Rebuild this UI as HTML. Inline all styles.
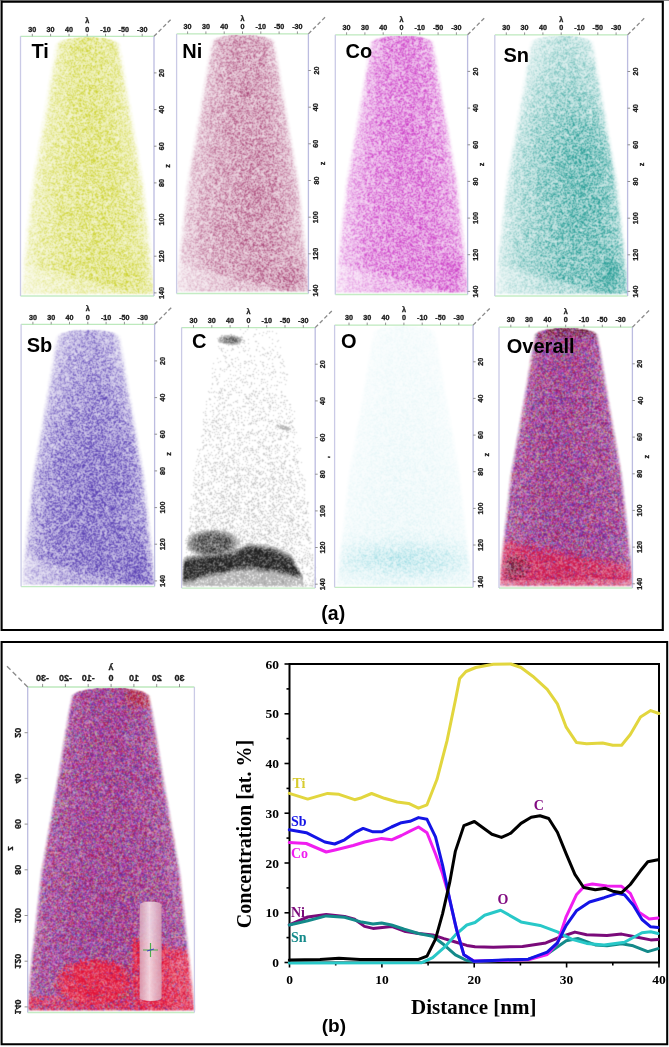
<!DOCTYPE html>
<html><head><meta charset="utf-8">
<style>
html,body{margin:0;padding:0;background:#fff;}
body{width:669px;height:1047px;overflow:hidden;position:relative;}
#fb,#cv,#ov{position:absolute;left:0;top:0;width:669px;height:1047px;}
.tk{font-family:"Liberation Sans",sans-serif;font-weight:bold;fill:#1a1a1a;stroke:#1a1a1a;stroke-width:0.3px;}
.el{font-family:"Liberation Sans",sans-serif;font-weight:bold;font-size:20px;fill:#000;}
.ab{font-family:"Liberation Sans",sans-serif;font-weight:bold;fill:#000;}
.ax{font-family:"Liberation Serif",serif;font-weight:bold;font-size:13.5px;fill:#000;}
.axt{font-family:"Liberation Serif",serif;font-weight:bold;fill:#000;}
.lg{font-family:"Liberation Serif",serif;font-weight:bold;font-size:14px;}
</style></head><body>
<svg id="fb" width="669" height="1047" viewBox="0 0 669 1047"><defs><linearGradient id="fg0" gradientUnits="userSpaceOnUse" x1="0" y1="36.8" x2="0" y2="293.5"><stop offset="0.009" stop-color="#eaecaa"/><stop offset="0.032" stop-color="#e8eaa2"/><stop offset="0.055" stop-color="#e7ea9f"/><stop offset="0.079" stop-color="#e8eba4"/><stop offset="0.102" stop-color="#e7ea9f"/><stop offset="0.125" stop-color="#e8eaa2"/><stop offset="0.149" stop-color="#e8eba3"/><stop offset="0.172" stop-color="#e8eba2"/><stop offset="0.196" stop-color="#e7ea9d"/><stop offset="0.219" stop-color="#e7ea9e"/><stop offset="0.242" stop-color="#e8eaa0"/><stop offset="0.266" stop-color="#e7eaa0"/><stop offset="0.289" stop-color="#e7e99d"/><stop offset="0.312" stop-color="#e7eaa0"/><stop offset="0.336" stop-color="#e8eba2"/><stop offset="0.359" stop-color="#e7ea9f"/><stop offset="0.383" stop-color="#e7ea9e"/><stop offset="0.406" stop-color="#e7eaa0"/><stop offset="0.429" stop-color="#e7e99d"/><stop offset="0.453" stop-color="#e7ea9f"/><stop offset="0.476" stop-color="#e6e99b"/><stop offset="0.499" stop-color="#e6e99b"/><stop offset="0.523" stop-color="#e6e99a"/><stop offset="0.546" stop-color="#e7ea9f"/><stop offset="0.570" stop-color="#e8eaa1"/><stop offset="0.593" stop-color="#e7ea9e"/><stop offset="0.616" stop-color="#e7e99d"/><stop offset="0.640" stop-color="#e8eba3"/><stop offset="0.663" stop-color="#e7e99d"/><stop offset="0.686" stop-color="#e6e99c"/><stop offset="0.710" stop-color="#e7e99d"/><stop offset="0.733" stop-color="#e7e99d"/><stop offset="0.757" stop-color="#e7eaa0"/><stop offset="0.780" stop-color="#e7ea9f"/><stop offset="0.803" stop-color="#e7eaa0"/><stop offset="0.827" stop-color="#e7ea9f"/><stop offset="0.850" stop-color="#e7ea9e"/><stop offset="0.873" stop-color="#e6e99b"/><stop offset="0.897" stop-color="#e6e899"/><stop offset="0.920" stop-color="#e8eba4"/><stop offset="0.944" stop-color="#eaecaa"/><stop offset="0.967" stop-color="#ebeeb1"/><stop offset="0.990" stop-color="#eff1be"/></linearGradient><linearGradient id="fg1" gradientUnits="userSpaceOnUse" x1="0" y1="34.4" x2="0" y2="291.0"><stop offset="0.010" stop-color="#dfbbcd"/><stop offset="0.034" stop-color="#d8acc2"/><stop offset="0.057" stop-color="#daafc5"/><stop offset="0.080" stop-color="#d9aec4"/><stop offset="0.104" stop-color="#dab0c5"/><stop offset="0.127" stop-color="#d9afc4"/><stop offset="0.150" stop-color="#dab1c6"/><stop offset="0.174" stop-color="#d9adc3"/><stop offset="0.197" stop-color="#d9adc3"/><stop offset="0.221" stop-color="#d9afc4"/><stop offset="0.244" stop-color="#d9aec3"/><stop offset="0.267" stop-color="#dbb1c6"/><stop offset="0.291" stop-color="#d8acc2"/><stop offset="0.314" stop-color="#d8acc2"/><stop offset="0.337" stop-color="#d9aec3"/><stop offset="0.361" stop-color="#d9aec4"/><stop offset="0.384" stop-color="#d9aec3"/><stop offset="0.408" stop-color="#daafc4"/><stop offset="0.431" stop-color="#d8acc2"/><stop offset="0.454" stop-color="#d8abc2"/><stop offset="0.478" stop-color="#d9aec3"/><stop offset="0.501" stop-color="#d8acc2"/><stop offset="0.525" stop-color="#d9adc3"/><stop offset="0.548" stop-color="#d9afc4"/><stop offset="0.571" stop-color="#d9afc4"/><stop offset="0.595" stop-color="#d7aac1"/><stop offset="0.618" stop-color="#d8acc2"/><stop offset="0.641" stop-color="#d7aac1"/><stop offset="0.665" stop-color="#d8adc3"/><stop offset="0.688" stop-color="#d7abc1"/><stop offset="0.712" stop-color="#d8acc2"/><stop offset="0.735" stop-color="#d9aec3"/><stop offset="0.758" stop-color="#d8acc2"/><stop offset="0.782" stop-color="#d9adc3"/><stop offset="0.805" stop-color="#d8acc2"/><stop offset="0.829" stop-color="#d8abc1"/><stop offset="0.852" stop-color="#dab0c5"/><stop offset="0.875" stop-color="#d9aec4"/><stop offset="0.899" stop-color="#d9aec3"/><stop offset="0.922" stop-color="#dab0c5"/><stop offset="0.945" stop-color="#dbb2c7"/><stop offset="0.969" stop-color="#dfbcce"/><stop offset="0.992" stop-color="#e6c9d8"/></linearGradient><linearGradient id="fg2" gradientUnits="userSpaceOnUse" x1="0" y1="35.3" x2="0" y2="292.0"><stop offset="0.011" stop-color="#e59ee3"/><stop offset="0.034" stop-color="#e6a0e3"/><stop offset="0.057" stop-color="#e29bdf"/><stop offset="0.081" stop-color="#e099de"/><stop offset="0.104" stop-color="#e59fe3"/><stop offset="0.127" stop-color="#e59ce2"/><stop offset="0.151" stop-color="#e49ce2"/><stop offset="0.174" stop-color="#e49ce2"/><stop offset="0.198" stop-color="#e59de2"/><stop offset="0.221" stop-color="#e49be2"/><stop offset="0.244" stop-color="#e59fe3"/><stop offset="0.268" stop-color="#e5a0e3"/><stop offset="0.291" stop-color="#e59de2"/><stop offset="0.314" stop-color="#e59ee3"/><stop offset="0.338" stop-color="#e59ce2"/><stop offset="0.361" stop-color="#e59ce2"/><stop offset="0.384" stop-color="#e49ae1"/><stop offset="0.408" stop-color="#e49ce2"/><stop offset="0.431" stop-color="#e59fe3"/><stop offset="0.455" stop-color="#e49ce2"/><stop offset="0.478" stop-color="#e59ce2"/><stop offset="0.501" stop-color="#e6a0e3"/><stop offset="0.525" stop-color="#e49ce2"/><stop offset="0.548" stop-color="#e49ae1"/><stop offset="0.571" stop-color="#e49be2"/><stop offset="0.595" stop-color="#e69fe3"/><stop offset="0.618" stop-color="#e59ce2"/><stop offset="0.642" stop-color="#e59ee3"/><stop offset="0.665" stop-color="#e59de2"/><stop offset="0.688" stop-color="#e59de2"/><stop offset="0.712" stop-color="#e59ee2"/><stop offset="0.735" stop-color="#e59ee2"/><stop offset="0.758" stop-color="#e59de2"/><stop offset="0.782" stop-color="#e49ae1"/><stop offset="0.805" stop-color="#e59ee2"/><stop offset="0.829" stop-color="#e49be2"/><stop offset="0.852" stop-color="#e49ce2"/><stop offset="0.875" stop-color="#e49ae1"/><stop offset="0.899" stop-color="#e397e0"/><stop offset="0.922" stop-color="#e6a0e3"/><stop offset="0.945" stop-color="#e8a9e6"/><stop offset="0.969" stop-color="#eaafe7"/><stop offset="0.992" stop-color="#edbceb"/></linearGradient><linearGradient id="fg3" gradientUnits="userSpaceOnUse" x1="0" y1="35.4" x2="0" y2="293.5"><stop offset="0.010" stop-color="#d0e9e8"/><stop offset="0.033" stop-color="#cbe7e6"/><stop offset="0.057" stop-color="#c8e6e4"/><stop offset="0.080" stop-color="#c5e4e3"/><stop offset="0.103" stop-color="#c1e2e1"/><stop offset="0.126" stop-color="#bee1df"/><stop offset="0.150" stop-color="#bde1df"/><stop offset="0.173" stop-color="#bce0de"/><stop offset="0.196" stop-color="#b6dedb"/><stop offset="0.219" stop-color="#b3dcda"/><stop offset="0.243" stop-color="#afdad8"/><stop offset="0.266" stop-color="#b1dbd9"/><stop offset="0.289" stop-color="#addad7"/><stop offset="0.312" stop-color="#a7d7d4"/><stop offset="0.336" stop-color="#a3d5d2"/><stop offset="0.359" stop-color="#a0d3d0"/><stop offset="0.382" stop-color="#9ed2cf"/><stop offset="0.405" stop-color="#9cd2cf"/><stop offset="0.429" stop-color="#99d0cd"/><stop offset="0.452" stop-color="#93ceca"/><stop offset="0.475" stop-color="#94cecb"/><stop offset="0.498" stop-color="#94ceca"/><stop offset="0.522" stop-color="#98d0cd"/><stop offset="0.545" stop-color="#93ceca"/><stop offset="0.568" stop-color="#97cfcc"/><stop offset="0.591" stop-color="#95cfcb"/><stop offset="0.614" stop-color="#95cfcb"/><stop offset="0.638" stop-color="#96cfcc"/><stop offset="0.661" stop-color="#99d1cd"/><stop offset="0.684" stop-color="#98d0cd"/><stop offset="0.707" stop-color="#98d0cd"/><stop offset="0.731" stop-color="#9ad1ce"/><stop offset="0.754" stop-color="#97cfcc"/><stop offset="0.777" stop-color="#98d0cd"/><stop offset="0.800" stop-color="#9cd2ce"/><stop offset="0.824" stop-color="#99d0cd"/><stop offset="0.847" stop-color="#9ad1ce"/><stop offset="0.870" stop-color="#98d0cd"/><stop offset="0.893" stop-color="#95cfcb"/><stop offset="0.917" stop-color="#98d0cd"/><stop offset="0.940" stop-color="#9ed3cf"/><stop offset="0.963" stop-color="#a9d7d5"/><stop offset="0.986" stop-color="#b4dcda"/><stop offset="1.000" stop-color="#cde8e6"/></linearGradient><linearGradient id="fg4" gradientUnits="userSpaceOnUse" x1="0" y1="329.3" x2="0" y2="584.1"><stop offset="0.011" stop-color="#c9c0e6"/><stop offset="0.034" stop-color="#c2b8e3"/><stop offset="0.058" stop-color="#c0b7e2"/><stop offset="0.081" stop-color="#bdb3e1"/><stop offset="0.105" stop-color="#bdb3e1"/><stop offset="0.128" stop-color="#b9aedf"/><stop offset="0.152" stop-color="#b9aedf"/><stop offset="0.175" stop-color="#b7acde"/><stop offset="0.199" stop-color="#b5aadd"/><stop offset="0.223" stop-color="#b3a8dc"/><stop offset="0.246" stop-color="#b1a5db"/><stop offset="0.270" stop-color="#aea2da"/><stop offset="0.293" stop-color="#b1a6db"/><stop offset="0.317" stop-color="#ada1d9"/><stop offset="0.340" stop-color="#aa9dd8"/><stop offset="0.364" stop-color="#a89bd7"/><stop offset="0.387" stop-color="#aa9dd8"/><stop offset="0.411" stop-color="#a99cd8"/><stop offset="0.434" stop-color="#a496d5"/><stop offset="0.458" stop-color="#a496d5"/><stop offset="0.482" stop-color="#a193d4"/><stop offset="0.505" stop-color="#a092d4"/><stop offset="0.529" stop-color="#a092d4"/><stop offset="0.552" stop-color="#9f90d3"/><stop offset="0.576" stop-color="#a092d4"/><stop offset="0.599" stop-color="#9e8fd3"/><stop offset="0.623" stop-color="#9f90d3"/><stop offset="0.646" stop-color="#a092d4"/><stop offset="0.670" stop-color="#9e8fd3"/><stop offset="0.693" stop-color="#9e90d3"/><stop offset="0.717" stop-color="#9e90d3"/><stop offset="0.741" stop-color="#a092d4"/><stop offset="0.764" stop-color="#9e90d3"/><stop offset="0.788" stop-color="#9d8ed2"/><stop offset="0.811" stop-color="#9d8ed2"/><stop offset="0.835" stop-color="#9c8ed2"/><stop offset="0.858" stop-color="#9d8fd2"/><stop offset="0.882" stop-color="#9f91d3"/><stop offset="0.905" stop-color="#9d8ed2"/><stop offset="0.929" stop-color="#a395d5"/><stop offset="0.953" stop-color="#aa9dd8"/><stop offset="0.976" stop-color="#b0a4db"/><stop offset="0.996" stop-color="#bfb5e2"/></linearGradient><linearGradient id="fg5" gradientUnits="userSpaceOnUse" x1="0" y1="328.1" x2="0" y2="585.6"><stop offset="0.011" stop-color="#fcfcfc"/><stop offset="0.035" stop-color="#e4e4e4"/><stop offset="0.058" stop-color="#e4e4e4"/><stop offset="0.081" stop-color="#f9f9f9"/><stop offset="0.104" stop-color="#fafafa"/><stop offset="0.128" stop-color="#f9f9f9"/><stop offset="0.151" stop-color="#f9f9f9"/><stop offset="0.174" stop-color="#f9f9f9"/><stop offset="0.198" stop-color="#f9f9f9"/><stop offset="0.221" stop-color="#f9f9f9"/><stop offset="0.244" stop-color="#f7f7f7"/><stop offset="0.268" stop-color="#f6f6f6"/><stop offset="0.291" stop-color="#f6f6f6"/><stop offset="0.314" stop-color="#f6f6f6"/><stop offset="0.337" stop-color="#f7f7f7"/><stop offset="0.361" stop-color="#f4f4f4"/><stop offset="0.384" stop-color="#f1f1f1"/><stop offset="0.407" stop-color="#f3f3f3"/><stop offset="0.431" stop-color="#f6f6f6"/><stop offset="0.454" stop-color="#f5f5f5"/><stop offset="0.477" stop-color="#f5f5f5"/><stop offset="0.501" stop-color="#f5f5f5"/><stop offset="0.524" stop-color="#f3f3f3"/><stop offset="0.547" stop-color="#f2f2f2"/><stop offset="0.570" stop-color="#f2f2f2"/><stop offset="0.594" stop-color="#f0f0f0"/><stop offset="0.617" stop-color="#f2f2f2"/><stop offset="0.640" stop-color="#f2f2f2"/><stop offset="0.664" stop-color="#f0f0f0"/><stop offset="0.687" stop-color="#f0f0f0"/><stop offset="0.710" stop-color="#efefef"/><stop offset="0.734" stop-color="#efefef"/><stop offset="0.757" stop-color="#efefef"/><stop offset="0.780" stop-color="#eaeaea"/><stop offset="0.803" stop-color="#cbcbcb"/><stop offset="0.827" stop-color="#bcbcbc"/><stop offset="0.850" stop-color="#a6a6a6"/><stop offset="0.873" stop-color="#878787"/><stop offset="0.897" stop-color="#636363"/><stop offset="0.920" stop-color="#5a5a5a"/><stop offset="0.943" stop-color="#7b7b7b"/><stop offset="0.967" stop-color="#acacac"/><stop offset="0.990" stop-color="#c4c4c4"/></linearGradient><linearGradient id="fg6" gradientUnits="userSpaceOnUse" x1="0" y1="325.6" x2="0" y2="584.8"><stop offset="0.009" stop-color="#f7fcfc"/><stop offset="0.032" stop-color="#f6fbfc"/><stop offset="0.056" stop-color="#f5fbfc"/><stop offset="0.079" stop-color="#f5fbfc"/><stop offset="0.102" stop-color="#f6fbfc"/><stop offset="0.125" stop-color="#f5fbfc"/><stop offset="0.148" stop-color="#f5fbfc"/><stop offset="0.171" stop-color="#f5fbfc"/><stop offset="0.194" stop-color="#f4fbfc"/><stop offset="0.218" stop-color="#f5fbfc"/><stop offset="0.241" stop-color="#f4fbfc"/><stop offset="0.264" stop-color="#f4fbfc"/><stop offset="0.287" stop-color="#f4fbfb"/><stop offset="0.310" stop-color="#f4fbfc"/><stop offset="0.333" stop-color="#f3fbfb"/><stop offset="0.356" stop-color="#f3fafb"/><stop offset="0.380" stop-color="#f3fafb"/><stop offset="0.403" stop-color="#f3fafb"/><stop offset="0.426" stop-color="#f3fafb"/><stop offset="0.449" stop-color="#f3fafb"/><stop offset="0.472" stop-color="#f2fafb"/><stop offset="0.495" stop-color="#f2fafb"/><stop offset="0.519" stop-color="#f2fafb"/><stop offset="0.542" stop-color="#f1fafb"/><stop offset="0.565" stop-color="#f2fafb"/><stop offset="0.588" stop-color="#f2fafb"/><stop offset="0.611" stop-color="#f2fafb"/><stop offset="0.634" stop-color="#f1fafb"/><stop offset="0.657" stop-color="#f1fafb"/><stop offset="0.681" stop-color="#f1fafb"/><stop offset="0.704" stop-color="#f1fafb"/><stop offset="0.727" stop-color="#f1fafb"/><stop offset="0.750" stop-color="#f0f9fa"/><stop offset="0.773" stop-color="#f0f9fa"/><stop offset="0.796" stop-color="#eff9fa"/><stop offset="0.819" stop-color="#ecf8f9"/><stop offset="0.843" stop-color="#e4f5f7"/><stop offset="0.866" stop-color="#dcf2f5"/><stop offset="0.889" stop-color="#d5f0f3"/><stop offset="0.912" stop-color="#d4eff3"/><stop offset="0.935" stop-color="#daf2f4"/><stop offset="0.958" stop-color="#e3f5f7"/><stop offset="0.981" stop-color="#eaf7f9"/><stop offset="0.997" stop-color="#edf8fa"/></linearGradient><linearGradient id="fg7" gradientUnits="userSpaceOnUse" x1="0" y1="327.7" x2="0" y2="585.5"><stop offset="0.009" stop-color="#96557c"/><stop offset="0.032" stop-color="#974f80"/><stop offset="0.055" stop-color="#834579"/><stop offset="0.079" stop-color="#753d6c"/><stop offset="0.102" stop-color="#93518c"/><stop offset="0.125" stop-color="#a75a9c"/><stop offset="0.149" stop-color="#a65599"/><stop offset="0.172" stop-color="#aa599b"/><stop offset="0.195" stop-color="#a85a9a"/><stop offset="0.218" stop-color="#a8599b"/><stop offset="0.242" stop-color="#a8599d"/><stop offset="0.265" stop-color="#a75d9e"/><stop offset="0.288" stop-color="#a2559a"/><stop offset="0.311" stop-color="#a95a9f"/><stop offset="0.335" stop-color="#a6599a"/><stop offset="0.358" stop-color="#aa5a9d"/><stop offset="0.381" stop-color="#a75b9b"/><stop offset="0.405" stop-color="#a7599d"/><stop offset="0.428" stop-color="#a6589a"/><stop offset="0.451" stop-color="#a6579b"/><stop offset="0.474" stop-color="#a6579a"/><stop offset="0.498" stop-color="#a7589d"/><stop offset="0.521" stop-color="#a85b9b"/><stop offset="0.544" stop-color="#a6559a"/><stop offset="0.567" stop-color="#a7589c"/><stop offset="0.591" stop-color="#a7599d"/><stop offset="0.614" stop-color="#a6579a"/><stop offset="0.637" stop-color="#a6599a"/><stop offset="0.661" stop-color="#a45398"/><stop offset="0.684" stop-color="#a4579c"/><stop offset="0.707" stop-color="#a6579a"/><stop offset="0.730" stop-color="#a5589d"/><stop offset="0.754" stop-color="#a8599c"/><stop offset="0.777" stop-color="#a3559a"/><stop offset="0.800" stop-color="#a5559a"/><stop offset="0.824" stop-color="#a6579b"/><stop offset="0.847" stop-color="#ae5493"/><stop offset="0.870" stop-color="#b74c8a"/><stop offset="0.893" stop-color="#bc467d"/><stop offset="0.917" stop-color="#c44675"/><stop offset="0.940" stop-color="#c74472"/><stop offset="0.963" stop-color="#c93f70"/><stop offset="0.986" stop-color="#d6668c"/><stop offset="1.000" stop-color="#e298b4"/></linearGradient><linearGradient id="fg8" gradientUnits="userSpaceOnUse" x1="0" y1="687.5" x2="0" y2="1010.0"><stop offset="0.008" stop-color="#af5f98"/><stop offset="0.026" stop-color="#ab508c"/><stop offset="0.045" stop-color="#ac5390"/><stop offset="0.064" stop-color="#a75797"/><stop offset="0.082" stop-color="#a55498"/><stop offset="0.101" stop-color="#a7579c"/><stop offset="0.119" stop-color="#a8559a"/><stop offset="0.138" stop-color="#a4589e"/><stop offset="0.157" stop-color="#a7599c"/><stop offset="0.175" stop-color="#a85c9b"/><stop offset="0.194" stop-color="#a7579a"/><stop offset="0.212" stop-color="#a7579a"/><stop offset="0.231" stop-color="#a7559c"/><stop offset="0.250" stop-color="#a5589d"/><stop offset="0.268" stop-color="#a5589a"/><stop offset="0.287" stop-color="#a4539a"/><stop offset="0.305" stop-color="#a7579a"/><stop offset="0.324" stop-color="#a7579b"/><stop offset="0.343" stop-color="#a8599d"/><stop offset="0.361" stop-color="#a65a9c"/><stop offset="0.380" stop-color="#a8589b"/><stop offset="0.398" stop-color="#a7579b"/><stop offset="0.417" stop-color="#a5579c"/><stop offset="0.436" stop-color="#a75799"/><stop offset="0.454" stop-color="#a7589a"/><stop offset="0.473" stop-color="#a7579b"/><stop offset="0.491" stop-color="#a6599c"/><stop offset="0.510" stop-color="#a6569a"/><stop offset="0.529" stop-color="#a85699"/><stop offset="0.547" stop-color="#a8579b"/><stop offset="0.566" stop-color="#a85a9d"/><stop offset="0.584" stop-color="#a5559a"/><stop offset="0.603" stop-color="#a7589a"/><stop offset="0.622" stop-color="#a7579a"/><stop offset="0.640" stop-color="#a55799"/><stop offset="0.659" stop-color="#a9599b"/><stop offset="0.678" stop-color="#af65a3"/><stop offset="0.696" stop-color="#af64a1"/><stop offset="0.715" stop-color="#ae66a0"/><stop offset="0.733" stop-color="#af64a2"/><stop offset="0.752" stop-color="#ae65a0"/><stop offset="0.771" stop-color="#ae65a0"/><stop offset="0.789" stop-color="#b2639f"/><stop offset="0.808" stop-color="#af5f97"/><stop offset="0.826" stop-color="#ba6096"/><stop offset="0.845" stop-color="#c15c90"/><stop offset="0.864" stop-color="#cf5881"/><stop offset="0.882" stop-color="#d2567e"/><stop offset="0.901" stop-color="#d4537a"/><stop offset="0.919" stop-color="#d6567b"/><stop offset="0.938" stop-color="#d3547a"/><stop offset="0.957" stop-color="#d4557a"/><stop offset="0.975" stop-color="#d54770"/><stop offset="0.994" stop-color="#d35981"/></linearGradient></defs><path d="M96.6,36.8 L105.9,37.8 L113.6,39.8 L117.8,42.8 L121.4,60.8 L128.7,104.8 L142.6,184.8 L153.0,288.8 L153.0,293.5 L21.5,293.5 L21.5,288.8 L31.9,184.8 L45.9,104.8 L53.1,60.8 L56.7,42.8 L60.9,39.8 L68.6,37.8 L77.9,36.8Z" fill="url(#fg0)"/><path d="M251.8,34.4 L261.1,35.4 L268.9,37.4 L273.0,40.4 L276.7,58.4 L283.9,102.4 L297.9,182.4 L307.4,286.4 L307.4,291.0 L177.6,291.0 L177.6,286.4 L187.1,182.4 L201.1,102.4 L208.3,58.4 L212.0,40.4 L216.1,37.4 L223.9,35.4 L233.2,34.4Z" fill="url(#fg1)"/><path d="M410.8,35.3 L420.1,36.3 L427.8,38.3 L432.0,41.3 L435.6,59.3 L442.9,103.3 L456.8,183.3 L466.6,287.3 L466.6,292.0 L336.3,292.0 L336.3,287.3 L346.1,183.3 L360.1,103.3 L367.3,59.3 L370.9,41.3 L375.1,38.3 L382.8,36.3 L392.1,35.3Z" fill="url(#fg2)"/><path d="M570.5,35.4 L579.8,36.4 L587.6,38.4 L591.7,41.4 L595.4,59.4 L602.6,103.4 L616.6,183.4 L626.6,287.4 L626.6,293.5 L495.8,293.5 L495.8,287.4 L505.8,183.4 L519.8,103.4 L527.0,59.4 L530.7,41.4 L534.8,38.4 L542.6,36.4 L551.9,35.4Z" fill="url(#fg3)"/><path d="M97.2,329.3 L106.5,330.3 L114.2,332.3 L118.4,335.3 L122.0,353.3 L129.2,397.3 L143.2,477.3 L153.6,581.3 L153.6,584.1 L22.1,584.1 L22.1,581.3 L32.5,477.3 L46.4,397.3 L53.7,353.3 L57.3,335.3 L61.5,332.3 L69.2,330.3 L78.5,329.3Z" fill="url(#fg4)"/><path d="M257.7,328.1 L267.0,329.1 L274.8,331.1 L278.9,334.1 L282.6,352.1 L289.8,396.1 L303.8,476.1 L314.2,580.1 L314.2,585.6 L182.6,585.6 L182.6,580.1 L193.0,476.1 L207.0,396.1 L214.2,352.1 L217.9,334.1 L222.0,331.1 L229.8,329.1 L239.1,328.1Z" fill="url(#fg5)"/><path d="M413.2,325.6 L422.5,326.6 L430.2,328.6 L434.4,331.6 L438.0,349.6 L445.2,393.6 L459.2,473.6 L470.6,577.6 L471.7,584.8 L336.0,584.8 L337.1,577.6 L348.5,473.6 L362.5,393.6 L369.7,349.6 L373.3,331.6 L377.5,328.6 L385.2,326.6 L394.5,325.6Z" fill="url(#fg6)"/><path d="M575.0,327.7 L584.3,328.7 L592.1,330.7 L596.2,333.7 L599.9,351.7 L607.1,395.7 L621.1,475.7 L631.4,579.7 L631.4,585.5 L500.0,585.5 L500.0,579.7 L510.3,475.7 L524.3,395.7 L531.5,351.7 L535.2,333.7 L539.3,330.7 L547.1,328.7 L556.4,327.7Z" fill="url(#fg7)"/><path d="M121.7,687.5 L133.3,688.7 L143.0,691.2 L148.1,695.0 L152.6,717.4 L161.7,772.3 L179.1,872.1 L193.3,1001.7 L193.4,1010.0 L28.7,1010.0 L28.7,1001.7 L41.0,872.1 L58.4,772.3 L67.5,717.4 L72.0,695.0 L77.1,691.2 L86.8,688.7 L98.4,687.5Z" fill="url(#fg8)"/></svg>
<canvas id="cv" width="669" height="1047"></canvas>
<svg id="ov" width="669" height="1047" viewBox="0 0 669 1047">
<rect x="0" y="0" width="669" height="1" fill="#8a8a8a"/>
<path d="M1.6,0.6 V631 M0.6,1.8 H663.7 M662.8,1 V631 M0.6,629.95 H663.7" fill="none" stroke="#000" stroke-width="2.1"/>
<path d="M1.6,641 V1045.3 M0.6,642 H668.2 M667.2,641 V1045.3 M0.6,1044.3 H668.2" fill="none" stroke="#000" stroke-width="2.05"/>
<line x1="20.5" y1="36.3" x2="154.0" y2="36.3" stroke="#bde9bd" stroke-width="1.3"/>
<line x1="20.5" y1="296.0" x2="154.0" y2="296.0" stroke="#c4ecc4" stroke-width="1.3"/>
<line x1="20.5" y1="36.3" x2="20.5" y2="296.0" stroke="#cacae6" stroke-width="1.3"/>
<line x1="154.0" y1="36.3" x2="154.0" y2="296.0" stroke="#bcbce0" stroke-width="1.3"/>
<line x1="154.0" y1="36.3" x2="172.0" y2="18.299999999999997" stroke="#8a8a8a" stroke-width="1.3" stroke-dasharray="4.0,2.5"/>
<line x1="32.3" y1="33.8" x2="32.3" y2="36.3" stroke="#777" stroke-width="0.8"/>
<text x="32.3" y="31.5" font-size="7.2" text-anchor="middle" class="tk">30</text>
<line x1="50.6" y1="33.8" x2="50.6" y2="36.3" stroke="#777" stroke-width="0.8"/>
<text x="50.6" y="31.5" font-size="7.2" text-anchor="middle" class="tk">30</text>
<line x1="69.0" y1="33.8" x2="69.0" y2="36.3" stroke="#777" stroke-width="0.8"/>
<text x="69.0" y="31.5" font-size="7.2" text-anchor="middle" class="tk">40</text>
<line x1="87.2" y1="33.8" x2="87.2" y2="36.3" stroke="#777" stroke-width="0.8"/>
<text x="87.2" y="31.5" font-size="7.2" text-anchor="middle" class="tk">0</text>
<line x1="105.5" y1="33.8" x2="105.5" y2="36.3" stroke="#777" stroke-width="0.8"/>
<text x="105.5" y="31.5" font-size="7.2" text-anchor="middle" class="tk">-10</text>
<line x1="123.8" y1="33.8" x2="123.8" y2="36.3" stroke="#777" stroke-width="0.8"/>
<text x="123.8" y="31.5" font-size="7.2" text-anchor="middle" class="tk">-50</text>
<line x1="142.2" y1="33.8" x2="142.2" y2="36.3" stroke="#777" stroke-width="0.8"/>
<text x="142.2" y="31.5" font-size="7.2" text-anchor="middle" class="tk">-30</text>
<text x="87.2" y="23.0" font-size="7.2" text-anchor="middle" class="tk">&#955;</text>
<line x1="154.0" y1="72.9" x2="156.5" y2="72.9" stroke="#777" stroke-width="0.8"/>
<text x="161.6" y="72.9" font-size="7.2" text-anchor="middle" dominant-baseline="central" class="tk" transform="rotate(-90 161.6 72.9)">20</text>
<line x1="154.0" y1="109.6" x2="156.5" y2="109.6" stroke="#777" stroke-width="0.8"/>
<text x="161.6" y="109.6" font-size="7.2" text-anchor="middle" dominant-baseline="central" class="tk" transform="rotate(-90 161.6 109.6)">40</text>
<line x1="154.0" y1="146.2" x2="156.5" y2="146.2" stroke="#777" stroke-width="0.8"/>
<text x="161.6" y="146.2" font-size="7.2" text-anchor="middle" dominant-baseline="central" class="tk" transform="rotate(-90 161.6 146.2)">60</text>
<line x1="154.0" y1="182.9" x2="156.5" y2="182.9" stroke="#777" stroke-width="0.8"/>
<text x="161.6" y="182.9" font-size="7.2" text-anchor="middle" dominant-baseline="central" class="tk" transform="rotate(-90 161.6 182.9)">80</text>
<line x1="154.0" y1="219.6" x2="156.5" y2="219.6" stroke="#777" stroke-width="0.8"/>
<text x="161.6" y="219.6" font-size="7.2" text-anchor="middle" dominant-baseline="central" class="tk" transform="rotate(-90 161.6 219.6)">100</text>
<line x1="154.0" y1="256.2" x2="156.5" y2="256.2" stroke="#777" stroke-width="0.8"/>
<text x="161.6" y="256.2" font-size="7.2" text-anchor="middle" dominant-baseline="central" class="tk" transform="rotate(-90 161.6 256.2)">120</text>
<line x1="154.0" y1="292.9" x2="156.5" y2="292.9" stroke="#777" stroke-width="0.8"/>
<text x="161.6" y="292.9" font-size="7.2" text-anchor="middle" dominant-baseline="central" class="tk" transform="rotate(-90 161.6 292.9)">140</text>
<text x="167.8" y="165.9" font-size="7.2" text-anchor="middle" dominant-baseline="central" class="tk" transform="rotate(-90 167.8 165.9)">z</text>
<text x="31.5" y="58.4" class="el">Ti</text>
<line x1="176.6" y1="33.9" x2="308.4" y2="33.9" stroke="#bde9bd" stroke-width="1.3"/>
<line x1="176.6" y1="293.5" x2="308.4" y2="293.5" stroke="#c4ecc4" stroke-width="1.3"/>
<line x1="176.6" y1="33.9" x2="176.6" y2="293.5" stroke="#cacae6" stroke-width="1.3"/>
<line x1="308.4" y1="33.9" x2="308.4" y2="293.5" stroke="#bcbce0" stroke-width="1.3"/>
<line x1="308.4" y1="33.9" x2="326.4" y2="15.899999999999999" stroke="#8a8a8a" stroke-width="1.3" stroke-dasharray="4.0,2.5"/>
<line x1="187.6" y1="31.4" x2="187.6" y2="33.9" stroke="#777" stroke-width="0.8"/>
<text x="187.6" y="29.1" font-size="7.2" text-anchor="middle" class="tk">30</text>
<line x1="205.9" y1="31.4" x2="205.9" y2="33.9" stroke="#777" stroke-width="0.8"/>
<text x="205.9" y="29.1" font-size="7.2" text-anchor="middle" class="tk">30</text>
<line x1="224.2" y1="31.4" x2="224.2" y2="33.9" stroke="#777" stroke-width="0.8"/>
<text x="224.2" y="29.1" font-size="7.2" text-anchor="middle" class="tk">40</text>
<line x1="242.5" y1="31.4" x2="242.5" y2="33.9" stroke="#777" stroke-width="0.8"/>
<text x="242.5" y="29.1" font-size="7.2" text-anchor="middle" class="tk">0</text>
<line x1="260.8" y1="31.4" x2="260.8" y2="33.9" stroke="#777" stroke-width="0.8"/>
<text x="260.8" y="29.1" font-size="7.2" text-anchor="middle" class="tk">-10</text>
<line x1="279.1" y1="31.4" x2="279.1" y2="33.9" stroke="#777" stroke-width="0.8"/>
<text x="279.1" y="29.1" font-size="7.2" text-anchor="middle" class="tk">-50</text>
<line x1="297.4" y1="31.4" x2="297.4" y2="33.9" stroke="#777" stroke-width="0.8"/>
<text x="297.4" y="29.1" font-size="7.2" text-anchor="middle" class="tk">-30</text>
<text x="242.5" y="20.6" font-size="7.2" text-anchor="middle" class="tk">&#955;</text>
<line x1="308.4" y1="70.5" x2="310.9" y2="70.5" stroke="#777" stroke-width="0.8"/>
<text x="316.0" y="70.5" font-size="7.2" text-anchor="middle" dominant-baseline="central" class="tk" transform="rotate(-90 316.0 70.5)">20</text>
<line x1="308.4" y1="107.2" x2="310.9" y2="107.2" stroke="#777" stroke-width="0.8"/>
<text x="316.0" y="107.2" font-size="7.2" text-anchor="middle" dominant-baseline="central" class="tk" transform="rotate(-90 316.0 107.2)">40</text>
<line x1="308.4" y1="143.8" x2="310.9" y2="143.8" stroke="#777" stroke-width="0.8"/>
<text x="316.0" y="143.8" font-size="7.2" text-anchor="middle" dominant-baseline="central" class="tk" transform="rotate(-90 316.0 143.8)">60</text>
<line x1="308.4" y1="180.5" x2="310.9" y2="180.5" stroke="#777" stroke-width="0.8"/>
<text x="316.0" y="180.5" font-size="7.2" text-anchor="middle" dominant-baseline="central" class="tk" transform="rotate(-90 316.0 180.5)">80</text>
<line x1="308.4" y1="217.2" x2="310.9" y2="217.2" stroke="#777" stroke-width="0.8"/>
<text x="316.0" y="217.2" font-size="7.2" text-anchor="middle" dominant-baseline="central" class="tk" transform="rotate(-90 316.0 217.2)">100</text>
<line x1="308.4" y1="253.8" x2="310.9" y2="253.8" stroke="#777" stroke-width="0.8"/>
<text x="316.0" y="253.8" font-size="7.2" text-anchor="middle" dominant-baseline="central" class="tk" transform="rotate(-90 316.0 253.8)">120</text>
<line x1="308.4" y1="290.4" x2="310.9" y2="290.4" stroke="#777" stroke-width="0.8"/>
<text x="316.0" y="290.4" font-size="7.2" text-anchor="middle" dominant-baseline="central" class="tk" transform="rotate(-90 316.0 290.4)">140</text>
<text x="322.2" y="163.5" font-size="7.2" text-anchor="middle" dominant-baseline="central" class="tk" transform="rotate(-90 322.2 163.5)">z</text>
<text x="182.3" y="58.4" class="el">Ni</text>
<line x1="335.3" y1="34.8" x2="467.6" y2="34.8" stroke="#bde9bd" stroke-width="1.3"/>
<line x1="335.3" y1="294.5" x2="467.6" y2="294.5" stroke="#c4ecc4" stroke-width="1.3"/>
<line x1="335.3" y1="34.8" x2="335.3" y2="294.5" stroke="#cacae6" stroke-width="1.3"/>
<line x1="467.6" y1="34.8" x2="467.6" y2="294.5" stroke="#bcbce0" stroke-width="1.3"/>
<line x1="467.6" y1="34.8" x2="485.6" y2="16.799999999999997" stroke="#8a8a8a" stroke-width="1.3" stroke-dasharray="4.0,2.5"/>
<line x1="346.6" y1="32.3" x2="346.6" y2="34.8" stroke="#777" stroke-width="0.8"/>
<text x="346.6" y="30.0" font-size="7.2" text-anchor="middle" class="tk">30</text>
<line x1="364.9" y1="32.3" x2="364.9" y2="34.8" stroke="#777" stroke-width="0.8"/>
<text x="364.9" y="30.0" font-size="7.2" text-anchor="middle" class="tk">30</text>
<line x1="383.2" y1="32.3" x2="383.2" y2="34.8" stroke="#777" stroke-width="0.8"/>
<text x="383.2" y="30.0" font-size="7.2" text-anchor="middle" class="tk">40</text>
<line x1="401.5" y1="32.3" x2="401.5" y2="34.8" stroke="#777" stroke-width="0.8"/>
<text x="401.5" y="30.0" font-size="7.2" text-anchor="middle" class="tk">0</text>
<line x1="419.8" y1="32.3" x2="419.8" y2="34.8" stroke="#777" stroke-width="0.8"/>
<text x="419.8" y="30.0" font-size="7.2" text-anchor="middle" class="tk">-10</text>
<line x1="438.1" y1="32.3" x2="438.1" y2="34.8" stroke="#777" stroke-width="0.8"/>
<text x="438.1" y="30.0" font-size="7.2" text-anchor="middle" class="tk">-50</text>
<line x1="456.4" y1="32.3" x2="456.4" y2="34.8" stroke="#777" stroke-width="0.8"/>
<text x="456.4" y="30.0" font-size="7.2" text-anchor="middle" class="tk">-30</text>
<text x="401.5" y="21.5" font-size="7.2" text-anchor="middle" class="tk">&#955;</text>
<line x1="467.6" y1="71.4" x2="470.1" y2="71.4" stroke="#777" stroke-width="0.8"/>
<text x="475.2" y="71.4" font-size="7.2" text-anchor="middle" dominant-baseline="central" class="tk" transform="rotate(-90 475.2 71.4)">20</text>
<line x1="467.6" y1="108.1" x2="470.1" y2="108.1" stroke="#777" stroke-width="0.8"/>
<text x="475.2" y="108.1" font-size="7.2" text-anchor="middle" dominant-baseline="central" class="tk" transform="rotate(-90 475.2 108.1)">40</text>
<line x1="467.6" y1="144.8" x2="470.1" y2="144.8" stroke="#777" stroke-width="0.8"/>
<text x="475.2" y="144.8" font-size="7.2" text-anchor="middle" dominant-baseline="central" class="tk" transform="rotate(-90 475.2 144.8)">60</text>
<line x1="467.6" y1="181.4" x2="470.1" y2="181.4" stroke="#777" stroke-width="0.8"/>
<text x="475.2" y="181.4" font-size="7.2" text-anchor="middle" dominant-baseline="central" class="tk" transform="rotate(-90 475.2 181.4)">80</text>
<line x1="467.6" y1="218.1" x2="470.1" y2="218.1" stroke="#777" stroke-width="0.8"/>
<text x="475.2" y="218.1" font-size="7.2" text-anchor="middle" dominant-baseline="central" class="tk" transform="rotate(-90 475.2 218.1)">100</text>
<line x1="467.6" y1="254.7" x2="470.1" y2="254.7" stroke="#777" stroke-width="0.8"/>
<text x="475.2" y="254.7" font-size="7.2" text-anchor="middle" dominant-baseline="central" class="tk" transform="rotate(-90 475.2 254.7)">120</text>
<line x1="467.6" y1="291.4" x2="470.1" y2="291.4" stroke="#777" stroke-width="0.8"/>
<text x="475.2" y="291.4" font-size="7.2" text-anchor="middle" dominant-baseline="central" class="tk" transform="rotate(-90 475.2 291.4)">140</text>
<text x="481.4" y="164.4" font-size="7.2" text-anchor="middle" dominant-baseline="central" class="tk" transform="rotate(-90 481.4 164.4)">z</text>
<text x="345.6" y="58.1" class="el">Co</text>
<line x1="494.8" y1="34.9" x2="627.6" y2="34.9" stroke="#bde9bd" stroke-width="1.3"/>
<line x1="494.8" y1="296.0" x2="627.6" y2="296.0" stroke="#c4ecc4" stroke-width="1.3"/>
<line x1="494.8" y1="34.9" x2="494.8" y2="296.0" stroke="#cacae6" stroke-width="1.3"/>
<line x1="627.6" y1="34.9" x2="627.6" y2="296.0" stroke="#bcbce0" stroke-width="1.3"/>
<line x1="627.6" y1="34.9" x2="645.6" y2="16.9" stroke="#8a8a8a" stroke-width="1.3" stroke-dasharray="4.0,2.5"/>
<line x1="506.3" y1="32.4" x2="506.3" y2="34.9" stroke="#777" stroke-width="0.8"/>
<text x="506.3" y="30.1" font-size="7.2" text-anchor="middle" class="tk">30</text>
<line x1="524.6" y1="32.4" x2="524.6" y2="34.9" stroke="#777" stroke-width="0.8"/>
<text x="524.6" y="30.1" font-size="7.2" text-anchor="middle" class="tk">30</text>
<line x1="542.9" y1="32.4" x2="542.9" y2="34.9" stroke="#777" stroke-width="0.8"/>
<text x="542.9" y="30.1" font-size="7.2" text-anchor="middle" class="tk">40</text>
<line x1="561.2" y1="32.4" x2="561.2" y2="34.9" stroke="#777" stroke-width="0.8"/>
<text x="561.2" y="30.1" font-size="7.2" text-anchor="middle" class="tk">0</text>
<line x1="579.5" y1="32.4" x2="579.5" y2="34.9" stroke="#777" stroke-width="0.8"/>
<text x="579.5" y="30.1" font-size="7.2" text-anchor="middle" class="tk">-10</text>
<line x1="597.8" y1="32.4" x2="597.8" y2="34.9" stroke="#777" stroke-width="0.8"/>
<text x="597.8" y="30.1" font-size="7.2" text-anchor="middle" class="tk">-50</text>
<line x1="616.1" y1="32.4" x2="616.1" y2="34.9" stroke="#777" stroke-width="0.8"/>
<text x="616.1" y="30.1" font-size="7.2" text-anchor="middle" class="tk">-30</text>
<text x="561.2" y="21.6" font-size="7.2" text-anchor="middle" class="tk">&#955;</text>
<line x1="627.6" y1="71.5" x2="630.1" y2="71.5" stroke="#777" stroke-width="0.8"/>
<text x="635.2" y="71.5" font-size="7.2" text-anchor="middle" dominant-baseline="central" class="tk" transform="rotate(-90 635.2 71.5)">20</text>
<line x1="627.6" y1="108.2" x2="630.1" y2="108.2" stroke="#777" stroke-width="0.8"/>
<text x="635.2" y="108.2" font-size="7.2" text-anchor="middle" dominant-baseline="central" class="tk" transform="rotate(-90 635.2 108.2)">40</text>
<line x1="627.6" y1="144.8" x2="630.1" y2="144.8" stroke="#777" stroke-width="0.8"/>
<text x="635.2" y="144.8" font-size="7.2" text-anchor="middle" dominant-baseline="central" class="tk" transform="rotate(-90 635.2 144.8)">60</text>
<line x1="627.6" y1="181.5" x2="630.1" y2="181.5" stroke="#777" stroke-width="0.8"/>
<text x="635.2" y="181.5" font-size="7.2" text-anchor="middle" dominant-baseline="central" class="tk" transform="rotate(-90 635.2 181.5)">80</text>
<line x1="627.6" y1="218.2" x2="630.1" y2="218.2" stroke="#777" stroke-width="0.8"/>
<text x="635.2" y="218.2" font-size="7.2" text-anchor="middle" dominant-baseline="central" class="tk" transform="rotate(-90 635.2 218.2)">100</text>
<line x1="627.6" y1="254.8" x2="630.1" y2="254.8" stroke="#777" stroke-width="0.8"/>
<text x="635.2" y="254.8" font-size="7.2" text-anchor="middle" dominant-baseline="central" class="tk" transform="rotate(-90 635.2 254.8)">120</text>
<line x1="627.6" y1="291.4" x2="630.1" y2="291.4" stroke="#777" stroke-width="0.8"/>
<text x="635.2" y="291.4" font-size="7.2" text-anchor="middle" dominant-baseline="central" class="tk" transform="rotate(-90 635.2 291.4)">140</text>
<text x="641.4" y="164.5" font-size="7.2" text-anchor="middle" dominant-baseline="central" class="tk" transform="rotate(-90 641.4 164.5)">z</text>
<text x="503.4" y="61.6" class="el">Sn</text>
<line x1="21.1" y1="324.3" x2="154.6" y2="324.3" stroke="#bde9bd" stroke-width="1.3"/>
<line x1="21.1" y1="586.6" x2="154.6" y2="586.6" stroke="#c4ecc4" stroke-width="1.3"/>
<line x1="21.1" y1="324.3" x2="21.1" y2="586.6" stroke="#cacae6" stroke-width="1.3"/>
<line x1="154.6" y1="324.3" x2="154.6" y2="586.6" stroke="#bcbce0" stroke-width="1.3"/>
<line x1="154.6" y1="324.3" x2="172.6" y2="306.3" stroke="#8a8a8a" stroke-width="1.3" stroke-dasharray="4.0,2.5"/>
<line x1="32.9" y1="321.8" x2="32.9" y2="324.3" stroke="#777" stroke-width="0.8"/>
<text x="32.9" y="319.5" font-size="7.2" text-anchor="middle" class="tk">30</text>
<line x1="51.2" y1="321.8" x2="51.2" y2="324.3" stroke="#777" stroke-width="0.8"/>
<text x="51.2" y="319.5" font-size="7.2" text-anchor="middle" class="tk">30</text>
<line x1="69.5" y1="321.8" x2="69.5" y2="324.3" stroke="#777" stroke-width="0.8"/>
<text x="69.5" y="319.5" font-size="7.2" text-anchor="middle" class="tk">40</text>
<line x1="87.8" y1="321.8" x2="87.8" y2="324.3" stroke="#777" stroke-width="0.8"/>
<text x="87.8" y="319.5" font-size="7.2" text-anchor="middle" class="tk">0</text>
<line x1="106.1" y1="321.8" x2="106.1" y2="324.3" stroke="#777" stroke-width="0.8"/>
<text x="106.1" y="319.5" font-size="7.2" text-anchor="middle" class="tk">-10</text>
<line x1="124.4" y1="321.8" x2="124.4" y2="324.3" stroke="#777" stroke-width="0.8"/>
<text x="124.4" y="319.5" font-size="7.2" text-anchor="middle" class="tk">-50</text>
<line x1="142.8" y1="321.8" x2="142.8" y2="324.3" stroke="#777" stroke-width="0.8"/>
<text x="142.8" y="319.5" font-size="7.2" text-anchor="middle" class="tk">-30</text>
<text x="87.8" y="311.0" font-size="7.2" text-anchor="middle" class="tk">&#955;</text>
<line x1="154.6" y1="360.9" x2="157.1" y2="360.9" stroke="#777" stroke-width="0.8"/>
<text x="162.2" y="360.9" font-size="7.2" text-anchor="middle" dominant-baseline="central" class="tk" transform="rotate(-90 162.2 360.9)">20</text>
<line x1="154.6" y1="397.6" x2="157.1" y2="397.6" stroke="#777" stroke-width="0.8"/>
<text x="162.2" y="397.6" font-size="7.2" text-anchor="middle" dominant-baseline="central" class="tk" transform="rotate(-90 162.2 397.6)">40</text>
<line x1="154.6" y1="434.2" x2="157.1" y2="434.2" stroke="#777" stroke-width="0.8"/>
<text x="162.2" y="434.2" font-size="7.2" text-anchor="middle" dominant-baseline="central" class="tk" transform="rotate(-90 162.2 434.2)">60</text>
<line x1="154.6" y1="470.9" x2="157.1" y2="470.9" stroke="#777" stroke-width="0.8"/>
<text x="162.2" y="470.9" font-size="7.2" text-anchor="middle" dominant-baseline="central" class="tk" transform="rotate(-90 162.2 470.9)">80</text>
<line x1="154.6" y1="507.6" x2="157.1" y2="507.6" stroke="#777" stroke-width="0.8"/>
<text x="162.2" y="507.6" font-size="7.2" text-anchor="middle" dominant-baseline="central" class="tk" transform="rotate(-90 162.2 507.6)">100</text>
<line x1="154.6" y1="544.2" x2="157.1" y2="544.2" stroke="#777" stroke-width="0.8"/>
<text x="162.2" y="544.2" font-size="7.2" text-anchor="middle" dominant-baseline="central" class="tk" transform="rotate(-90 162.2 544.2)">120</text>
<line x1="154.6" y1="580.9" x2="157.1" y2="580.9" stroke="#777" stroke-width="0.8"/>
<text x="162.2" y="580.9" font-size="7.2" text-anchor="middle" dominant-baseline="central" class="tk" transform="rotate(-90 162.2 580.9)">140</text>
<text x="168.4" y="453.9" font-size="7.2" text-anchor="middle" dominant-baseline="central" class="tk" transform="rotate(-90 168.4 453.9)">z</text>
<text x="26.7" y="351.7" class="el">Sb</text>
<line x1="181.6" y1="327.6" x2="315.2" y2="327.6" stroke="#bde9bd" stroke-width="1.3"/>
<line x1="181.6" y1="588.1" x2="315.2" y2="588.1" stroke="#c4ecc4" stroke-width="1.3"/>
<line x1="181.6" y1="327.6" x2="181.6" y2="588.1" stroke="#cacae6" stroke-width="1.3"/>
<line x1="315.2" y1="327.6" x2="315.2" y2="588.1" stroke="#bcbce0" stroke-width="1.3"/>
<line x1="315.2" y1="327.6" x2="333.2" y2="309.6" stroke="#8a8a8a" stroke-width="1.3" stroke-dasharray="4.0,2.5"/>
<line x1="193.5" y1="325.1" x2="193.5" y2="327.6" stroke="#777" stroke-width="0.8"/>
<text x="193.5" y="322.8" font-size="7.2" text-anchor="middle" class="tk">30</text>
<line x1="211.8" y1="325.1" x2="211.8" y2="327.6" stroke="#777" stroke-width="0.8"/>
<text x="211.8" y="322.8" font-size="7.2" text-anchor="middle" class="tk">30</text>
<line x1="230.1" y1="325.1" x2="230.1" y2="327.6" stroke="#777" stroke-width="0.8"/>
<text x="230.1" y="322.8" font-size="7.2" text-anchor="middle" class="tk">40</text>
<line x1="248.4" y1="325.1" x2="248.4" y2="327.6" stroke="#777" stroke-width="0.8"/>
<text x="248.4" y="322.8" font-size="7.2" text-anchor="middle" class="tk">0</text>
<line x1="266.7" y1="325.1" x2="266.7" y2="327.6" stroke="#777" stroke-width="0.8"/>
<text x="266.7" y="322.8" font-size="7.2" text-anchor="middle" class="tk">-10</text>
<line x1="285.0" y1="325.1" x2="285.0" y2="327.6" stroke="#777" stroke-width="0.8"/>
<text x="285.0" y="322.8" font-size="7.2" text-anchor="middle" class="tk">-50</text>
<line x1="303.3" y1="325.1" x2="303.3" y2="327.6" stroke="#777" stroke-width="0.8"/>
<text x="303.3" y="322.8" font-size="7.2" text-anchor="middle" class="tk">-30</text>
<text x="248.4" y="314.3" font-size="7.2" text-anchor="middle" class="tk">&#955;</text>
<line x1="315.2" y1="364.2" x2="317.7" y2="364.2" stroke="#777" stroke-width="0.8"/>
<text x="322.8" y="364.2" font-size="7.2" text-anchor="middle" dominant-baseline="central" class="tk" transform="rotate(-90 322.8 364.2)">20</text>
<line x1="315.2" y1="400.9" x2="317.7" y2="400.9" stroke="#777" stroke-width="0.8"/>
<text x="322.8" y="400.9" font-size="7.2" text-anchor="middle" dominant-baseline="central" class="tk" transform="rotate(-90 322.8 400.9)">40</text>
<line x1="315.2" y1="437.6" x2="317.7" y2="437.6" stroke="#777" stroke-width="0.8"/>
<text x="322.8" y="437.6" font-size="7.2" text-anchor="middle" dominant-baseline="central" class="tk" transform="rotate(-90 322.8 437.6)">60</text>
<line x1="315.2" y1="474.2" x2="317.7" y2="474.2" stroke="#777" stroke-width="0.8"/>
<text x="322.8" y="474.2" font-size="7.2" text-anchor="middle" dominant-baseline="central" class="tk" transform="rotate(-90 322.8 474.2)">80</text>
<line x1="315.2" y1="510.9" x2="317.7" y2="510.9" stroke="#777" stroke-width="0.8"/>
<text x="322.8" y="510.9" font-size="7.2" text-anchor="middle" dominant-baseline="central" class="tk" transform="rotate(-90 322.8 510.9)">100</text>
<line x1="315.2" y1="547.5" x2="317.7" y2="547.5" stroke="#777" stroke-width="0.8"/>
<text x="322.8" y="547.5" font-size="7.2" text-anchor="middle" dominant-baseline="central" class="tk" transform="rotate(-90 322.8 547.5)">120</text>
<line x1="315.2" y1="584.2" x2="317.7" y2="584.2" stroke="#777" stroke-width="0.8"/>
<text x="322.8" y="584.2" font-size="7.2" text-anchor="middle" dominant-baseline="central" class="tk" transform="rotate(-90 322.8 584.2)">140</text>
<text x="329.0" y="457.2" font-size="3.5" text-anchor="middle" dominant-baseline="central" class="tk" transform="rotate(-90 329.0 457.2)">z</text>
<text x="192.0" y="348.4" class="el">C</text>
<line x1="334.6" y1="325.1" x2="473.1" y2="325.1" stroke="#bde9bd" stroke-width="1.3"/>
<line x1="334.6" y1="587.3" x2="473.1" y2="587.3" stroke="#c4ecc4" stroke-width="1.3"/>
<line x1="334.6" y1="325.1" x2="334.6" y2="587.3" stroke="#cacae6" stroke-width="1.3"/>
<line x1="473.1" y1="325.1" x2="473.1" y2="587.3" stroke="#bcbce0" stroke-width="1.3"/>
<line x1="473.1" y1="325.1" x2="491.1" y2="307.1" stroke="#8a8a8a" stroke-width="1.3" stroke-dasharray="4.0,2.5"/>
<line x1="349.0" y1="322.6" x2="349.0" y2="325.1" stroke="#777" stroke-width="0.8"/>
<text x="349.0" y="320.3" font-size="7.2" text-anchor="middle" class="tk">30</text>
<line x1="367.2" y1="322.6" x2="367.2" y2="325.1" stroke="#777" stroke-width="0.8"/>
<text x="367.2" y="320.3" font-size="7.2" text-anchor="middle" class="tk">30</text>
<line x1="385.6" y1="322.6" x2="385.6" y2="325.1" stroke="#777" stroke-width="0.8"/>
<text x="385.6" y="320.3" font-size="7.2" text-anchor="middle" class="tk">40</text>
<line x1="403.9" y1="322.6" x2="403.9" y2="325.1" stroke="#777" stroke-width="0.8"/>
<text x="403.9" y="320.3" font-size="7.2" text-anchor="middle" class="tk">0</text>
<line x1="422.2" y1="322.6" x2="422.2" y2="325.1" stroke="#777" stroke-width="0.8"/>
<text x="422.2" y="320.3" font-size="7.2" text-anchor="middle" class="tk">-10</text>
<line x1="440.5" y1="322.6" x2="440.5" y2="325.1" stroke="#777" stroke-width="0.8"/>
<text x="440.5" y="320.3" font-size="7.2" text-anchor="middle" class="tk">-50</text>
<line x1="458.8" y1="322.6" x2="458.8" y2="325.1" stroke="#777" stroke-width="0.8"/>
<text x="458.8" y="320.3" font-size="7.2" text-anchor="middle" class="tk">-30</text>
<text x="403.9" y="311.8" font-size="7.2" text-anchor="middle" class="tk">&#955;</text>
<line x1="473.1" y1="361.8" x2="475.6" y2="361.8" stroke="#777" stroke-width="0.8"/>
<text x="480.7" y="361.8" font-size="7.2" text-anchor="middle" dominant-baseline="central" class="tk" transform="rotate(-90 480.7 361.8)">20</text>
<line x1="473.1" y1="398.4" x2="475.6" y2="398.4" stroke="#777" stroke-width="0.8"/>
<text x="480.7" y="398.4" font-size="7.2" text-anchor="middle" dominant-baseline="central" class="tk" transform="rotate(-90 480.7 398.4)">40</text>
<line x1="473.1" y1="435.1" x2="475.6" y2="435.1" stroke="#777" stroke-width="0.8"/>
<text x="480.7" y="435.1" font-size="7.2" text-anchor="middle" dominant-baseline="central" class="tk" transform="rotate(-90 480.7 435.1)">60</text>
<line x1="473.1" y1="471.7" x2="475.6" y2="471.7" stroke="#777" stroke-width="0.8"/>
<text x="480.7" y="471.7" font-size="7.2" text-anchor="middle" dominant-baseline="central" class="tk" transform="rotate(-90 480.7 471.7)">80</text>
<line x1="473.1" y1="508.4" x2="475.6" y2="508.4" stroke="#777" stroke-width="0.8"/>
<text x="480.7" y="508.4" font-size="7.2" text-anchor="middle" dominant-baseline="central" class="tk" transform="rotate(-90 480.7 508.4)">100</text>
<line x1="473.1" y1="545.0" x2="475.6" y2="545.0" stroke="#777" stroke-width="0.8"/>
<text x="480.7" y="545.0" font-size="7.2" text-anchor="middle" dominant-baseline="central" class="tk" transform="rotate(-90 480.7 545.0)">120</text>
<line x1="473.1" y1="581.7" x2="475.6" y2="581.7" stroke="#777" stroke-width="0.8"/>
<text x="480.7" y="581.7" font-size="7.2" text-anchor="middle" dominant-baseline="central" class="tk" transform="rotate(-90 480.7 581.7)">140</text>
<text x="486.9" y="454.7" font-size="7.2" text-anchor="middle" dominant-baseline="central" class="tk" transform="rotate(-90 486.9 454.7)">z</text>
<text x="341.0" y="347.8" class="el">O</text>
<line x1="499.0" y1="327.2" x2="632.4" y2="327.2" stroke="#bde9bd" stroke-width="1.3"/>
<line x1="499.0" y1="588.0" x2="632.4" y2="588.0" stroke="#c4ecc4" stroke-width="1.3"/>
<line x1="499.0" y1="327.2" x2="499.0" y2="588.0" stroke="#cacae6" stroke-width="1.3"/>
<line x1="632.4" y1="327.2" x2="632.4" y2="588.0" stroke="#bcbce0" stroke-width="1.3"/>
<line x1="632.4" y1="327.2" x2="650.4" y2="309.2" stroke="#8a8a8a" stroke-width="1.3" stroke-dasharray="4.0,2.5"/>
<line x1="510.8" y1="324.7" x2="510.8" y2="327.2" stroke="#777" stroke-width="0.8"/>
<text x="510.8" y="322.4" font-size="7.2" text-anchor="middle" class="tk">30</text>
<line x1="529.1" y1="324.7" x2="529.1" y2="327.2" stroke="#777" stroke-width="0.8"/>
<text x="529.1" y="322.4" font-size="7.2" text-anchor="middle" class="tk">30</text>
<line x1="547.4" y1="324.7" x2="547.4" y2="327.2" stroke="#777" stroke-width="0.8"/>
<text x="547.4" y="322.4" font-size="7.2" text-anchor="middle" class="tk">40</text>
<line x1="565.7" y1="324.7" x2="565.7" y2="327.2" stroke="#777" stroke-width="0.8"/>
<text x="565.7" y="322.4" font-size="7.2" text-anchor="middle" class="tk">0</text>
<line x1="584.0" y1="324.7" x2="584.0" y2="327.2" stroke="#777" stroke-width="0.8"/>
<text x="584.0" y="322.4" font-size="7.2" text-anchor="middle" class="tk">-10</text>
<line x1="602.3" y1="324.7" x2="602.3" y2="327.2" stroke="#777" stroke-width="0.8"/>
<text x="602.3" y="322.4" font-size="7.2" text-anchor="middle" class="tk">-50</text>
<line x1="620.6" y1="324.7" x2="620.6" y2="327.2" stroke="#777" stroke-width="0.8"/>
<text x="620.6" y="322.4" font-size="7.2" text-anchor="middle" class="tk">-30</text>
<text x="565.7" y="313.9" font-size="7.2" text-anchor="middle" class="tk">&#955;</text>
<line x1="632.4" y1="363.8" x2="634.9" y2="363.8" stroke="#777" stroke-width="0.8"/>
<text x="640.0" y="363.8" font-size="7.2" text-anchor="middle" dominant-baseline="central" class="tk" transform="rotate(-90 640.0 363.8)">20</text>
<line x1="632.4" y1="400.5" x2="634.9" y2="400.5" stroke="#777" stroke-width="0.8"/>
<text x="640.0" y="400.5" font-size="7.2" text-anchor="middle" dominant-baseline="central" class="tk" transform="rotate(-90 640.0 400.5)">40</text>
<line x1="632.4" y1="437.1" x2="634.9" y2="437.1" stroke="#777" stroke-width="0.8"/>
<text x="640.0" y="437.1" font-size="7.2" text-anchor="middle" dominant-baseline="central" class="tk" transform="rotate(-90 640.0 437.1)">60</text>
<line x1="632.4" y1="473.8" x2="634.9" y2="473.8" stroke="#777" stroke-width="0.8"/>
<text x="640.0" y="473.8" font-size="7.2" text-anchor="middle" dominant-baseline="central" class="tk" transform="rotate(-90 640.0 473.8)">80</text>
<line x1="632.4" y1="510.4" x2="634.9" y2="510.4" stroke="#777" stroke-width="0.8"/>
<text x="640.0" y="510.4" font-size="7.2" text-anchor="middle" dominant-baseline="central" class="tk" transform="rotate(-90 640.0 510.4)">100</text>
<line x1="632.4" y1="547.1" x2="634.9" y2="547.1" stroke="#777" stroke-width="0.8"/>
<text x="640.0" y="547.1" font-size="7.2" text-anchor="middle" dominant-baseline="central" class="tk" transform="rotate(-90 640.0 547.1)">120</text>
<line x1="632.4" y1="583.8" x2="634.9" y2="583.8" stroke="#777" stroke-width="0.8"/>
<text x="640.0" y="583.8" font-size="7.2" text-anchor="middle" dominant-baseline="central" class="tk" transform="rotate(-90 640.0 583.8)">140</text>
<text x="646.2" y="456.8" font-size="7.2" text-anchor="middle" dominant-baseline="central" class="tk" transform="rotate(-90 646.2 456.8)">z</text>
<text x="506.8" y="352.8" class="el">Overall</text>
<g transform="translate(222.1,0) scale(-1,1)"><line x1="27.7" y1="687.0" x2="194.4" y2="687.0" stroke="#bde9bd" stroke-width="1.3"/>
<line x1="27.7" y1="1012.5" x2="194.4" y2="1012.5" stroke="#c4ecc4" stroke-width="1.3"/>
<line x1="27.7" y1="687.0" x2="27.7" y2="1012.5" stroke="#cacae6" stroke-width="1.3"/>
<line x1="194.4" y1="687.0" x2="194.4" y2="1012.5" stroke="#bcbce0" stroke-width="1.3"/>
<line x1="194.4" y1="687.0" x2="216.846" y2="664.554" stroke="#8a8a8a" stroke-width="1.3" stroke-dasharray="5.0,3.1"/>
<line x1="42.6" y1="683.9" x2="42.6" y2="687.0" stroke="#777" stroke-width="0.8"/>
<text x="42.6" y="681.0" font-size="9.0" text-anchor="middle" class="tk">30</text>
<line x1="65.4" y1="683.9" x2="65.4" y2="687.0" stroke="#777" stroke-width="0.8"/>
<text x="65.4" y="681.0" font-size="9.0" text-anchor="middle" class="tk">20</text>
<line x1="88.2" y1="683.9" x2="88.2" y2="687.0" stroke="#777" stroke-width="0.8"/>
<text x="88.2" y="681.0" font-size="9.0" text-anchor="middle" class="tk">10</text>
<line x1="111.0" y1="683.9" x2="111.0" y2="687.0" stroke="#777" stroke-width="0.8"/>
<text x="111.0" y="681.0" font-size="9.0" text-anchor="middle" class="tk">0</text>
<line x1="133.9" y1="683.9" x2="133.9" y2="687.0" stroke="#777" stroke-width="0.8"/>
<text x="133.9" y="681.0" font-size="9.0" text-anchor="middle" class="tk">-10</text>
<line x1="156.7" y1="683.9" x2="156.7" y2="687.0" stroke="#777" stroke-width="0.8"/>
<text x="156.7" y="681.0" font-size="9.0" text-anchor="middle" class="tk">-20</text>
<line x1="179.5" y1="683.9" x2="179.5" y2="687.0" stroke="#777" stroke-width="0.8"/>
<text x="179.5" y="681.0" font-size="9.0" text-anchor="middle" class="tk">-30</text>
<text x="111.0" y="670.4" font-size="9.0" text-anchor="middle" class="tk">&#955;</text>
<line x1="194.4" y1="732.7" x2="197.5" y2="732.7" stroke="#777" stroke-width="0.8"/>
<text x="203.9" y="732.7" font-size="9.0" text-anchor="middle" dominant-baseline="central" class="tk" transform="rotate(-90 203.9 732.7)">20</text>
<line x1="194.4" y1="778.4" x2="197.5" y2="778.4" stroke="#777" stroke-width="0.8"/>
<text x="203.9" y="778.4" font-size="9.0" text-anchor="middle" dominant-baseline="central" class="tk" transform="rotate(-90 203.9 778.4)">40</text>
<line x1="194.4" y1="824.1" x2="197.5" y2="824.1" stroke="#777" stroke-width="0.8"/>
<text x="203.9" y="824.1" font-size="9.0" text-anchor="middle" dominant-baseline="central" class="tk" transform="rotate(-90 203.9 824.1)">60</text>
<line x1="194.4" y1="869.8" x2="197.5" y2="869.8" stroke="#777" stroke-width="0.8"/>
<text x="203.9" y="869.8" font-size="9.0" text-anchor="middle" dominant-baseline="central" class="tk" transform="rotate(-90 203.9 869.8)">80</text>
<line x1="194.4" y1="915.5" x2="197.5" y2="915.5" stroke="#777" stroke-width="0.8"/>
<text x="203.9" y="915.5" font-size="9.0" text-anchor="middle" dominant-baseline="central" class="tk" transform="rotate(-90 203.9 915.5)">100</text>
<line x1="194.4" y1="961.2" x2="197.5" y2="961.2" stroke="#777" stroke-width="0.8"/>
<text x="203.9" y="961.2" font-size="9.0" text-anchor="middle" dominant-baseline="central" class="tk" transform="rotate(-90 203.9 961.2)">120</text>
<line x1="194.4" y1="1006.9" x2="197.5" y2="1006.9" stroke="#777" stroke-width="0.8"/>
<text x="203.9" y="1006.9" font-size="9.0" text-anchor="middle" dominant-baseline="central" class="tk" transform="rotate(-90 203.9 1006.9)">140</text>
<text x="211.6" y="848.6" font-size="9.0" text-anchor="middle" dominant-baseline="central" class="tk" transform="rotate(-90 211.6 848.6)">z</text></g>
<text x="321.3" y="620.3" class="ab" font-size="19.5">(a)</text>
<text x="321.8" y="1032" class="ab" font-size="19">(b)</text>
<rect x="289.5" y="664.0" width="369.5" height="298.5" fill="none" stroke="#000" stroke-width="2"/>
<line x1="284.5" y1="962.5" x2="289.5" y2="962.5" stroke="#000" stroke-width="1.6"/>
<text x="279.0" y="967.1" class="ax" text-anchor="end">0</text>
<line x1="286.5" y1="937.6" x2="289.5" y2="937.6" stroke="#000" stroke-width="1.6"/>
<line x1="284.5" y1="912.8" x2="289.5" y2="912.8" stroke="#000" stroke-width="1.6"/>
<text x="279.0" y="917.4" class="ax" text-anchor="end">10</text>
<line x1="286.5" y1="887.9" x2="289.5" y2="887.9" stroke="#000" stroke-width="1.6"/>
<line x1="284.5" y1="863.0" x2="289.5" y2="863.0" stroke="#000" stroke-width="1.6"/>
<text x="279.0" y="867.6" class="ax" text-anchor="end">20</text>
<line x1="286.5" y1="838.1" x2="289.5" y2="838.1" stroke="#000" stroke-width="1.6"/>
<line x1="284.5" y1="813.2" x2="289.5" y2="813.2" stroke="#000" stroke-width="1.6"/>
<text x="279.0" y="817.9" class="ax" text-anchor="end">30</text>
<line x1="286.5" y1="788.4" x2="289.5" y2="788.4" stroke="#000" stroke-width="1.6"/>
<line x1="284.5" y1="763.5" x2="289.5" y2="763.5" stroke="#000" stroke-width="1.6"/>
<text x="279.0" y="768.1" class="ax" text-anchor="end">40</text>
<line x1="286.5" y1="738.6" x2="289.5" y2="738.6" stroke="#000" stroke-width="1.6"/>
<line x1="284.5" y1="713.8" x2="289.5" y2="713.8" stroke="#000" stroke-width="1.6"/>
<text x="279.0" y="718.4" class="ax" text-anchor="end">50</text>
<line x1="286.5" y1="688.9" x2="289.5" y2="688.9" stroke="#000" stroke-width="1.6"/>
<line x1="284.5" y1="664.0" x2="289.5" y2="664.0" stroke="#000" stroke-width="1.6"/>
<text x="279.0" y="668.6" class="ax" text-anchor="end">60</text>
<line x1="289.5" y1="962.5" x2="289.5" y2="967.5" stroke="#000" stroke-width="1.6"/>
<text x="289.5" y="984.3" class="ax" text-anchor="middle">0</text>
<line x1="335.7" y1="962.5" x2="335.7" y2="965.5" stroke="#000" stroke-width="1.6"/>
<line x1="381.9" y1="962.5" x2="381.9" y2="967.5" stroke="#000" stroke-width="1.6"/>
<text x="381.9" y="984.3" class="ax" text-anchor="middle">10</text>
<line x1="428.1" y1="962.5" x2="428.1" y2="965.5" stroke="#000" stroke-width="1.6"/>
<line x1="474.2" y1="962.5" x2="474.2" y2="967.5" stroke="#000" stroke-width="1.6"/>
<text x="474.2" y="984.3" class="ax" text-anchor="middle">20</text>
<line x1="520.4" y1="962.5" x2="520.4" y2="965.5" stroke="#000" stroke-width="1.6"/>
<line x1="566.6" y1="962.5" x2="566.6" y2="967.5" stroke="#000" stroke-width="1.6"/>
<text x="566.6" y="984.3" class="ax" text-anchor="middle">30</text>
<line x1="612.8" y1="962.5" x2="612.8" y2="965.5" stroke="#000" stroke-width="1.6"/>
<line x1="659.0" y1="962.5" x2="659.0" y2="967.5" stroke="#000" stroke-width="1.6"/>
<text x="659.0" y="984.3" class="ax" text-anchor="middle">40</text>
<text x="411" y="1014.2" class="axt" font-size="21">Distance [nm]</text>
<text transform="translate(251.2 834) rotate(-90)" class="axt" font-size="20" text-anchor="middle">Concentration [at. %]</text>
<polyline points="289.3,793.4 307.7,799.1 327.6,793.4 339.0,794.3 354.6,799.7 361.7,797.7 371.6,793.5 384.4,798.3 397.2,802.0 408.6,803.4 418.5,808.2 427.0,804.8 437.0,779.3 447.0,740.9 455.5,699.7 459.7,678.4 466.0,671.5 475.8,667.5 493.3,664.2 510.8,664.0 521.0,667.5 532.7,676.2 547.2,689.3 557.4,703.9 566.2,727.2 576.4,742.4 586.6,743.8 602.6,743.0 612.8,745.3 621.6,745.3 630.3,734.5 640.5,717.0 650.7,710.6 658.9,713.5" fill="none" stroke="#e2d63e" stroke-width="3" stroke-linejoin="round" stroke-linecap="round"/>
<polyline points="289.3,925.0 307.7,917.0 326.2,914.5 344.6,916.5 354.6,919.3 364.5,926.4 373.0,928.4 391.5,926.4 404.3,931.2 418.5,933.5 432.7,934.9 444.0,938.6 455.4,942.0 466.8,945.4 475.0,946.8 493.3,947.2 522.5,946.4 545.8,942.9 560.4,937.0 574.9,932.1 586.6,934.7 607.0,935.6 621.6,934.1 636.1,937.0 650.7,939.9 658.0,939.4" fill="none" stroke="#7a0a7a" stroke-width="3" stroke-linejoin="round" stroke-linecap="round"/>
<polyline points="289.3,925.0 307.7,920.7 326.2,915.9 344.6,917.3 361.7,922.1 373.0,924.1 381.6,923.0 391.5,925.0 404.3,929.2 418.5,933.5 432.7,936.3 444.0,944.8 455.4,954.8 466.8,960.5 475.0,961.5 528.3,959.2 548.7,953.0 566.2,940.8 577.8,938.5 595.3,944.9 607.0,945.8 621.6,943.7 633.2,945.8 647.8,951.6 658.0,948.6" fill="none" stroke="#148a8a" stroke-width="3" stroke-linejoin="round" stroke-linecap="round"/>
<polyline points="289.3,962.9 421.3,962.8 432.7,957.6 444.0,947.7 455.4,934.9 466.8,925.0 475.0,922.5 484.6,915.2 500.6,910.2 521.0,921.9 540.0,925.4 557.4,931.8 572.0,939.4 586.6,943.4 604.1,944.9 624.5,942.3 642.0,932.7 650.7,931.8 658.0,933.5" fill="none" stroke="#28c8c8" stroke-width="3" stroke-linejoin="round" stroke-linecap="round"/>
<polyline points="289.3,842.6 306.3,843.5 326.2,852.0 336.1,849.7 353.2,845.5 364.5,842.0 381.6,838.4 391.5,839.8 401.4,835.5 410.0,831.2 418.5,827.0 427.0,832.7 435.5,854.0 442.6,873.8 448.3,893.7 455.4,925.0 463.9,954.8 473.9,961.0 528.3,959.7 547.2,954.5 557.4,942.9 566.2,916.6 576.4,894.8 585.1,885.4 592.4,884.0 607.0,886.0 621.6,886.3 630.3,893.3 639.0,912.2 649.2,918.9 658.0,918.0" fill="none" stroke="#f01ef0" stroke-width="3" stroke-linejoin="round" stroke-linecap="round"/>
<polyline points="289.3,829.8 306.3,832.7 324.8,842.0 334.7,844.0 344.6,839.8 354.6,832.7 363.1,828.4 373.0,831.8 381.6,831.8 391.5,827.0 401.4,822.7 410.0,821.3 418.5,817.6 427.0,819.3 435.5,836.9 442.6,865.3 449.7,899.4 456.8,930.6 463.9,954.8 473.9,961.2 528.3,959.2 547.2,952.2 557.4,942.9 566.2,925.4 576.4,910.8 589.5,902.0 604.1,897.7 617.2,893.3 624.5,894.8 633.2,905.0 642.0,919.5 650.7,926.8 658.0,927.4" fill="none" stroke="#1414e6" stroke-width="3" stroke-linejoin="round" stroke-linecap="round"/>
<polyline points="289.3,959.9 320.0,959.6 339.0,958.2 360.0,959.4 418.5,959.4 427.0,956.2 435.5,939.2 442.6,913.6 449.7,882.4 455.4,851.1 463.9,825.6 474.4,821.5 491.9,834.3 501.5,837.4 510.8,833.2 521.0,823.4 531.2,817.2 540.0,815.8 548.7,818.5 557.4,832.2 566.2,853.9 574.9,874.3 583.7,887.5 595.3,889.8 605.5,888.3 612.8,891.2 621.6,892.7 630.3,884.5 640.5,870.8 647.8,861.8 658.0,859.8" fill="none" stroke="#000000" stroke-width="3" stroke-linejoin="round" stroke-linecap="round"/>
<text x="292.4" y="787.8" class="lg" fill="#d8cc30">Ti</text>
<text x="291.0" y="825.6" class="lg" fill="#1414e6">Sb</text>
<text x="291.0" y="858.2" class="lg" fill="#f01ef0">Co</text>
<text x="291.0" y="916.5" class="lg" fill="#7a0a7a">Ni</text>
<text x="291.0" y="942.0" class="lg" fill="#148a8a">Sn</text>
<text x="533.8" y="809.7" class="lg" fill="#800a80">C</text>
<text x="497.5" y="904.3" class="lg" fill="#800a80">O</text>
</svg>
<script>
(function(){
var W=669,H=1047;
var cv=document.getElementById('cv');
if(!cv||!cv.getContext)return;
var ctx=cv.getContext('2d');
var img=ctx.createImageData(W,H),D=img.data;
for(var i=0;i<D.length;i+=4){D[i]=255;D[i+1]=255;D[i+2]=255;D[i+3]=255;}
var s=20240611;
function R(){s^=s<<13;s^=s>>>17;s^=s<<5;return (s>>>0)/4294967296;}
var NG=[];var GW=Math.ceil(W/2.5)+3,GH=Math.ceil(H/2.5)+3;
for(var i=0;i<GW*GH;i++)NG.push(R());
function vn(x,y){var gx=x/2.5,gy=y/2.5,ix=Math.floor(gx),iy=Math.floor(gy),fx=gx-ix,fy=gy-iy;
 var a=NG[iy*GW+ix],b=NG[iy*GW+ix+1],c=NG[(iy+1)*GW+ix],d=NG[(iy+1)*GW+ix+1];
 return (a*(1-fx)+b*fx)*(1-fy)+(c*(1-fx)+d*fx)*fy;}
var TAB=[[0,9],[1,18],[3,25.5],[6,29.5],[24,33],[68,40],[148,53.5],[252,64.5],[262,66]];
function hw(r,tab){tab=tab||TAB;if(r<0)return -1;for(var i=1;i<tab.length;i++){if(r<=tab[i][0]){var t=(r-tab[i-1][0])/(tab[i][0]-tab[i-1][0]);return tab[i-1][1]+t*(tab[i][1]-tab[i-1][1]);}}return tab[tab.length-1][1];}
function gb(u,v,b){var dx=(u-b[0])/b[2],dy=(v-b[1])/b[3];return b[4]*Math.exp(-(dx*dx+dy*dy));}
function panel(P){
 var sc=P.sc,cx=P.cx,top=P.top,bot=P.bot;
 var y0=Math.floor(top-2),y1=Math.ceil(bot+1);
 var inks=P.inks,tw=0;for(var k=0;k<inks.length;k++)tw+=inks[k][3];
 for(var y=y0;y<=y1;y++){
  var r=(y-top)/sc;var h=hw(r,P.tab)*sc*P.sx;if(h<=0)continue;
  var xa=Math.floor(Math.max(P.x0,cx-h-4)),xb=Math.ceil(Math.min(P.x1,cx+h+4));
  var v=(y-top)/(bot-top);
  for(var x=xa;x<=xb;x++){
   var dx=x-cx,e=(h-Math.abs(dx));
   var m=e/P.edge+0.5;if(m<=0)continue;if(m>1)m=1;
   var mb=(bot-y)/2+0.5;if(mb<=0)continue;if(mb>1)mb=1;m*=mb;
   var q=Math.abs(dx)/Math.max(h,1);var dep=q<1?Math.sqrt(1-q*q):0;
   var u=dx/(65*sc);
   var c=P.base*(P.dmin+(1-P.dmin)*dep);
   if(P.fn)c=P.fn(u,v,c);
   if(P.fxy)c=P.fxy(x,y,c,dep);
   if(P.blobs)for(var k=0;k<P.blobs.length;k++)c+=gb(u,v,P.blobs[k])*(P.dmin+(1-P.dmin)*dep);
   c*=m;
   if(P.cont&&P.sk){var rr=R();var n=0.15*vn(x,y)*2+0.85*(0.35+1.95*rr*rr);c=c*n;}
   else{var n=0.2*vn(x,y)+0.8*R();
   c=c*(1+P.cl*(n-0.5)*2);}
   if(c<=0)continue;
   var ink;
   if(P.dark&&R()<P.dark(u,v)){ink=P.darkInk;}
   else if(P.red&&R()<P.red(u,v)){ink=P.redInk;}
   else if(inks.length==1){ink=inks[0];}
   else{var t=R()*tw;for(var k=0;k<inks.length;k++){t-=inks[k][3];if(t<=0)break;}ink=inks[Math.min(k,inks.length-1)];}
   var a;
   if(P.cont){a=c>1?1:c;}
   else{ var al=c>P.alpha?Math.min(0.97,c):P.alpha; if(R()>=c/al)continue; a=al;}
   var o=(y*W+x)*4;
   D[o]=D[o]*(1-a)+ink[0]*a;D[o+1]=D[o+1]*(1-a)+ink[1]*a;D[o+2]=D[o+2]*(1-a)+ink[2]*a;
  }
 }
}
function PA(l,t,r,b,o){if(o.sk===undefined)o.sk=1;if(o.sx===undefined)o.sx=1.035;o.cx=(l+r)/2+(o.dcx||0);o.top=t+(o.dt||0.5);o.bot=b-(o.db||2.5);o.x0=l+1;o.x1=r-1;o.sc=o.sc||1;
 if(o.alpha===undefined)o.alpha=0.95;if(o.dmin===undefined)o.dmin=0.55;if(o.cl===undefined)o.cl=0.9;if(o.edge===undefined)o.edge=4;if(o.cont===undefined)o.cont=1;return o;}
var P=[];function cl01(x){return x<0?0:(x>1?1:x);}
function blw(u,v,c){var vl=0.87+(u+1)*0.07;var t=(v-vl)/0.03; if(t>0)c*=Math.max(0.62,1-t*0.4);return c*(0.88+0.12*u);}
P.push(PA(20.5,36.3,154,296,{base:0.58,edge:6,dmin:0.35,inks:[[202,208,38,1]],fn:blw,blobs:[[0.75,0.93,0.2,0.06,0.12]]}));
P.push(PA(176.6,33.9,308.4,293.5,{base:0.56,edge:5,dmin:0.35,inks:[[168,68,118,1]],fn:blw,blobs:[[0.76,0.94,0.18,0.05,0.3],[0.3,0.65,0.35,0.15,0.06]]}));
P.push(PA(335.3,34.8,467.6,294.5,{base:0.68,edge:5,dmin:0.35,inks:[[205,65,200,1]],fn:blw,blobs:[[0.8,0.91,0.16,0.055,0.4]]}));
P.push(PA(494.8,34.9,627.6,296,{base:0.7,edge:5,dmin:0.3,inks:[[35,155,148,1]],fn:function(u,v,c){c=blw(u,v,c);return c*(0.5+0.5*Math.min(1,v/0.45))*(0.85+0.2*u);},blobs:[[0.77,0.92,0.17,0.055,0.45],[0.35,0.55,0.4,0.25,0.08]]}));
P.push(PA(21.1,324.3,154.6,586.6,{base:0.75,edge:5,dt:5,dmin:0.35,inks:[[90,65,180,1]],fn:function(u,v,c){c=blw(u,v,c);return c*(0.62+0.45*Math.min(1,v/0.55));},blobs:[[0.8,0.93,0.17,0.055,0.4]]}));
// C (binary dots)
function pl(xs,ys,x){if(x<=xs[0])return ys[0];for(var i=1;i<xs.length;i++)if(x<=xs[i]){var t=(x-xs[i-1])/(xs[i]-xs[i-1]);return ys[i-1]+t*(ys[i]-ys[i-1]);}return ys[ys.length-1];}
var CBX=[182,201,232,249,274,291,299,303],CBY=[570.5,566.5,561,557,560,566.5,574,578],CBT=[13,12.5,11,13.5,13,10.5,4,0];
function ell(x,y,cx,cy,rx,ry,ang){var ca=Math.cos(ang),sa=Math.sin(ang),dx=x-cx,dy=y-cy;var px=(dx*ca+dy*sa)/rx,py=(-dx*sa+dy*ca)/ry;return px*px+py*py;}
P.push(PA(181.6,327.6,315.2,588.1,{cont:0,base:0.05,dmin:0.5,cl:0.6,alpha:0.26,inks:[[25,25,25,1]],fn:function(u,v,c){return c*(0.3+1.6*v);},
  fxy:function(x,y,c,dep){
    var e=ell(x,y,230,339.5,14,5.8,0.05);if(e<1)c+=0.62*(1-e);
    e=ell(x,y,283,427,10,2.8,0.2);if(e<1)c+=0.32*(1-e);
    e=ell(x,y,212,543,29,15,0);if(e<1)c+=0.6*Math.min(1,(1-e)*1.5);
    var yc=pl(CBX,CBY,x),t=pl(CBX,CBT,x);
    if(t>0){var d=(t-Math.abs(y-yc))/9+0.35;if(d>0)c=Math.max(c,0.92*Math.min(1,d));
      if(y>yc+t)c=Math.max(c,0.28);}
    return c;}}));
// O
P.push(PA(334.6,325.1,473.1,587.3,{base:0.07,dmin:0.5,cl:0.9,inks:[[60,185,200,1]],fn:function(u,v,c){return c*(0.7+0.6*v);},
  blobs:[[0,0.9,1.3,0.06,0.18]]}));
// Overall
var OVINK=[[180,25,75,2.8],[95,55,175,2.5],[175,45,165,4],[125,30,120,3],[175,150,100,1],[75,135,135,0.5]];
P.push(PA(499,327.2,632.4,588,{sk:0,base:0.9,dmin:0.7,cl:0.5,inks:OVINK,
  fn:function(u,v,c){if(v>0.975)c*=0.75;return c;},
  red:function(u,v){var vb=0.8+0.1*(u+1)/2;var p=0.85*cl01((v-vb)/0.05);return p;},redInk:[205,20,75],
  dark:function(u,v){var p=0;if(v<0.045)p=0.55*(1-v/0.045)+0.15;var a=(u+0.78)/0.25,b=(v-0.93)/0.06,e=a*a+b*b;if(e<1)p=Math.max(p,0.6*(1-e));return p;},darkInk:[95,10,40]}));
// panel b
P.push(PA(27.7,687,194.4,1012.5,{sk:0,sc:1.247,dcx:-1,base:0.9,dmin:0.7,cl:0.5,inks:OVINK,
  red:function(u,v){
   var a=(u+0.2)/0.52,b=(v-0.915)/0.085,e=a*a+b*b;var p=0.88*cl01((1-e)*2.2);
   var vb=0.765+(u-0.3)*0.06;p=Math.max(p,0.85*cl01((v-vb)/0.025)*cl01((u-0.24)/0.06));
   if(v>0.955)p=Math.max(p,0.55);
   return p;},redInk:[225,18,55],
  dark:function(u,v){var p=0;if(v<0.07&&u>0.15){p=0.8*cl01((0.07-v)/0.025)*cl01((u-0.15)/0.12);}return p;},darkInk:[170,18,50]}));
for(var k=0;k<P.length;k++)panel(P[k]);
var T=new Float32Array(W*H*3);
for(var y=0;y<H;y++)for(var x=0;x<W;x++){var o=(y*W+x)*4,l=(y*W+Math.max(0,x-1))*4,r=(y*W+Math.min(W-1,x+1))*4,t=(y*W+x)*3;
 for(var c=0;c<3;c++)T[t+c]=(D[l+c]+3*D[o+c]+D[r+c])*0.2;}
for(var y=0;y<H;y++)for(var x=0;x<W;x++){var o=(y*W+x)*4,t=(y*W+x)*3,u=(Math.max(0,y-1)*W+x)*3,d=(Math.min(H-1,y+1)*W+x)*3;
 for(var c=0;c<3;c++)D[o+c]=(T[u+c]+3*T[t+c]+T[d+c])*0.2;}
ctx.putImageData(img,0,0);
var gr=ctx.createLinearGradient(139.6,0,161.6,0);
gr.addColorStop(0,'rgba(215,165,185,0.85)');gr.addColorStop(0.45,'rgba(245,225,232,0.9)');gr.addColorStop(1,'rgba(215,160,180,0.85)');
ctx.fillStyle=gr;
ctx.beginPath();ctx.moveTo(139.6,905);ctx.ellipse(150.6,905,11,3.5,0,Math.PI,0,false);ctx.lineTo(161.6,998);ctx.ellipse(150.6,998,11,3,0,0,Math.PI,false);ctx.closePath();ctx.fill();
ctx.strokeStyle='rgba(60,170,60,0.9)';ctx.lineWidth=1.2;ctx.beginPath();ctx.moveTo(150.5,943);ctx.lineTo(150.5,957);ctx.moveTo(143,950);ctx.lineTo(158,950);ctx.stroke();
ctx.strokeStyle='rgba(60,60,200,0.9)';ctx.beginPath();ctx.moveTo(147,951);ctx.lineTo(154,949);ctx.stroke();
})();

</script>
</body></html>
